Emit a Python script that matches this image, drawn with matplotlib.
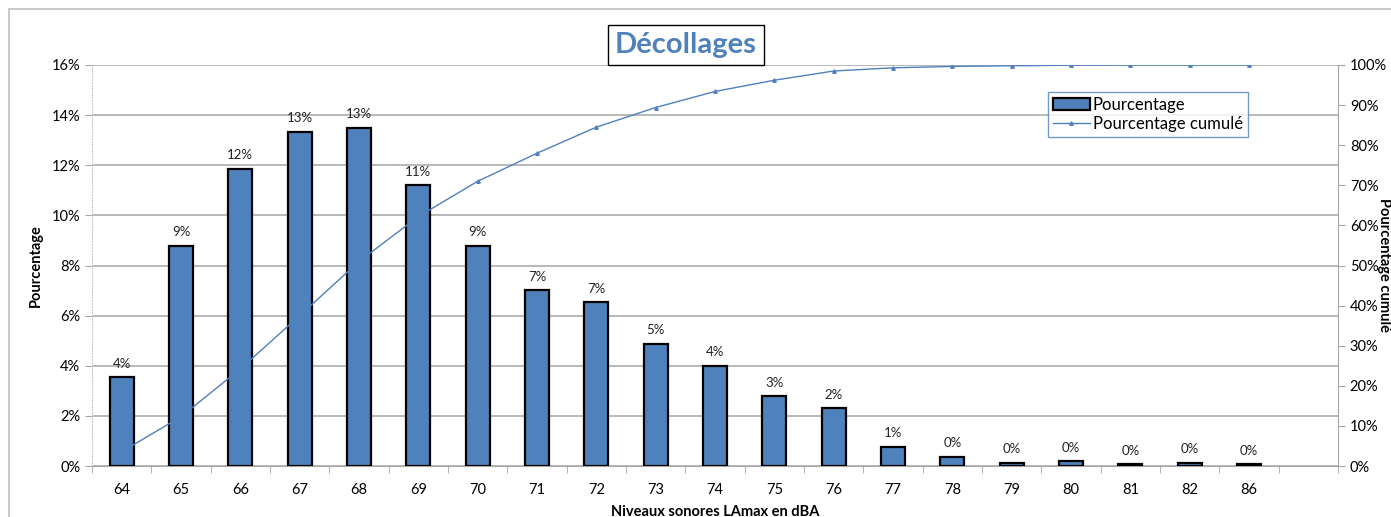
import numpy as np
import matplotlib.pyplot as plt
from matplotlib.patches import Rectangle
from matplotlib.lines import Line2D

plt.rcParams['font.family'] = ['Lato', 'DejaVu Sans']

# niveaux sonores (dBA) et pourcentages
niveaux = ['64', '65', '66', '67', '68', '69', '70', '71', '72', '73',
           '74', '75', '76', '77', '78', '79', '80', '81', '82', '86']
pourcentage = [3.55, 8.78, 11.85, 13.33, 13.49, 11.21, 8.78, 7.02, 6.54, 4.87,
               3.99, 2.79, 2.31, 0.77, 0.37, 0.13, 0.19, 0.07, 0.13, 0.07]
etiquettes = ['4%', '9%', '12%', '13%', '13%', '11%', '9%', '7%', '7%', '5%',
              '4%', '3%', '2%', '1%', '0%', '0%', '0%', '0%', '0%', '0%']
cumule = [3.55, 12.3, 24.2, 37.5, 51.0, 62.2, 71.0, 78.0, 84.5, 89.4,
          93.4, 96.2, 98.5, 99.3, 99.65, 99.8, 99.95, 100.0, 100.0, 100.0]

blue = '#4F81BD'
grid_c = '#A6A6A6'

fig = plt.figure(figsize=(13.91, 5.17), dpi=100)
# outer chart border
fig.patches.append(Rectangle((9 / 1391, -0.1), 1.2, 1 - 9 / 517 + 0.1,
                             transform=fig.transFigure, fill=False,
                             edgecolor='#BFBFBF', lw=1.2))

ax = fig.add_axes([92 / 1391, 1 - 466 / 517, (1338 - 92) / 1391, (466 - 65) / 517])
x = np.arange(len(niveaux))
ax.bar(x, pourcentage, width=0.4, color=blue, edgecolor='black', lw=1.6, zorder=3)
for xi, v, t in zip(x, pourcentage, etiquettes):
    ax.text(xi, v + 0.3, t, ha='center', va='bottom', fontsize=9.5, color='#222222')

ax.set_xlim(-0.5, 20.5)
ax.set_ylim(0, 16)
ax.set_yticks(np.arange(0, 17, 2))
ax.set_yticklabels([f'{v}%' for v in range(0, 17, 2)], fontsize=10.5)
ax.set_xticks(x)
ax.set_xticklabels(niveaux, fontsize=10.5)
ax.set_xticks(np.arange(-0.5, 21, 1), minor=True)
ax.tick_params(axis='x', which='major', length=0, pad=12)
ax.tick_params(axis='x', which='minor', length=5, color=grid_c)
ax.tick_params(axis='y', length=5, color=grid_c)
ax.grid(axis='y', color=grid_c, lw=1.1, zorder=0)
for s in ['top', 'right']:
    ax.spines[s].set_visible(False)
ax.spines['left'].set_color('#C8C8C8')
ax.spines['left'].set_linestyle(':')
ax.spines['bottom'].set_color(grid_c)
ax.set_ylabel('Pourcentage', fontsize=10.5, fontweight='bold', labelpad=6)
ax.set_xlabel('Niveaux sonores LAmax en dBA', fontsize=10.5, fontweight='bold', labelpad=6)

ax2 = ax.twinx()
ax2.plot(x, np.array(cumule) / 100, color=blue, lw=1, marker='^', ms=2.5, zorder=4)
ax2.set_ylim(0, 1)
ax2.set_yticks(np.arange(0, 1.01, 0.1))
ax2.set_yticklabels([f'{v}%' for v in range(0, 101, 10)], fontsize=10.5)
ax2.tick_params(axis='y', length=5, color=grid_c)
for s in ['top', 'left', 'bottom']:
    ax2.spines[s].set_visible(False)
ax2.spines['right'].set_color(grid_c)
fig.text(1384 / 1391, 1 - 265 / 517, 'Pourcentage cumulé', fontsize=10.5,
         fontweight='bold', rotation=-90, ha='center', va='center')

handles = [Rectangle((0, 0), 1, 1, facecolor=blue, edgecolor='black', lw=1.6),
           Line2D([], [], color=blue, lw=1, marker='^', ms=2.5)]
leg = ax2.legend(handles, ['Pourcentage', 'Pourcentage cumulé'], loc='upper left',
                 bbox_to_anchor=((1048 - 92) / 1246, (466 - 92) / 401),
                 fontsize=12, frameon=True, fancybox=False, borderpad=0.3,
                 handlelength=2.2, handletextpad=0.2, labelspacing=0.2,
                 borderaxespad=0)
leg.get_frame().set_edgecolor(blue)
leg.get_frame().set_linewidth(1)

fig.text(686 / 1391, 1 - 45 / 517, 'Décollages', ha='center', va='center',
         fontsize=21, fontweight='bold', color=blue,
         bbox=dict(boxstyle='square,pad=0.25', facecolor='white', edgecolor='black', lw=1))

fig.savefig('out.png', dpi=100)
